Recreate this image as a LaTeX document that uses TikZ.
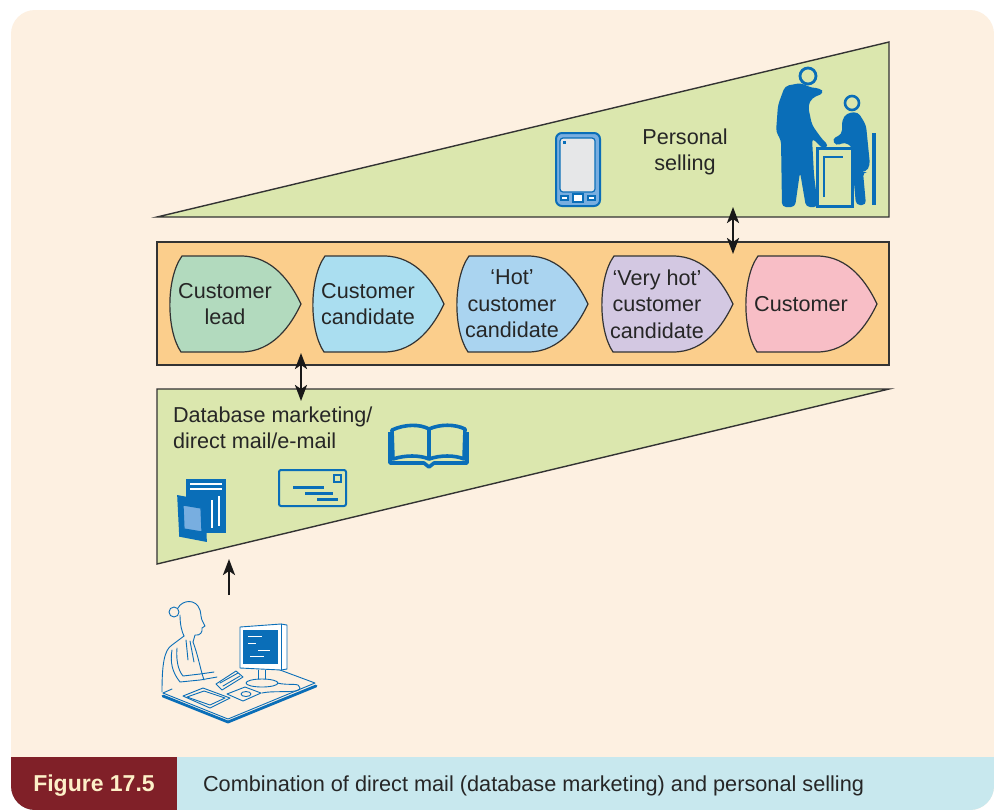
\documentclass[tikz,border=0pt]{standalone}
\usepackage{fontspec}
\setmainfont{Liberation Sans}
\usepackage{tikz}
\usetikzlibrary{arrows.meta}

\definecolor{cream}{HTML}{FDF0E1}
\definecolor{funnel}{HTML}{DBE7AE}
\definecolor{bandorange}{HTML}{FBCE8C}
\definecolor{leadgreen}{HTML}{B2DABE}
\definecolor{candblue}{HTML}{AADEF0}
\definecolor{hotblue}{HTML}{AAD4F0}
\definecolor{veryhot}{HTML}{D3C8E2}
\definecolor{custpink}{HTML}{F8BEC6}
\definecolor{capblue}{HTML}{C8E8EE}
\definecolor{capred}{HTML}{802028}
\definecolor{capcream}{HTML}{FDF0C8}
\definecolor{iconblue}{HTML}{0A6EB8}
\definecolor{phoneblue}{HTML}{78AEE0}
\definecolor{screengrey}{HTML}{E6E7E8}

\begin{document}
\begin{tikzpicture}[x = 0.5pt, y = -0.5pt,
    frame/.style = {draw = black!80, line width = 0.7pt},
    stagetext/.style = {font = \fontsize{10.8}{13.2}\selectfont, align = center, text = black!85},
    twoway/.style = {{Stealth[length = 8pt, width = 6pt, inset = 2pt]}-{Stealth[length = 8pt, width = 6pt, inset = 2pt]}, line width = 1.2pt, black!90},
    oneway/.style = {-{Stealth[length = 8pt, width = 6pt, inset = 2pt]}, line width = 1.2pt, black!90},
    icon/.style = {draw = iconblue, line width = 1pt},
    sketch/.style = {draw = iconblue, line width = 0.45pt, line join = round, line cap = round}]
    \useasboundingbox (0, 0) rectangle (1000, 810);
    \fill [white] (0, 0) rectangle (1000, 810);
    % panel and caption strip
    \begin{scope}
        \clip [rounded corners = 12pt] (11, 10) rectangle (994, 810);
        \fill [cream] (11, 10) rectangle (994, 810);
        \fill [capblue] (11, 757) rectangle (994, 810);
        \fill [capred] (11, 757) rectangle (177, 810);
    \end{scope}
    \node [font = \bfseries\fontsize{11.5}{13}\selectfont, text = capcream] (fignum) at (94, 786) {Figure 17.5};
    \node [font = \fontsize{10.85}{13}\selectfont, text = black!85, anchor = west] (caption) at (196, 786) {Combination of direct mail (database marketing) and personal selling};

    % the two wedges and the stage band
    \filldraw [fill = funnel, frame] (157, 217) -- (889, 42) -- (889, 217) -- cycle;
    \filldraw [fill = funnel, frame] (157, 389) -- (889, 389) -- (157, 564) -- cycle;
    \filldraw [fill = bandorange, frame] (157, 242) rectangle (889, 365);

    \foreach \x/\c/\t [count = \i] in {169/leadgreen/{Customer\\lead}, 312/candblue/{Customer\\candidate},
        456/hotblue/{‘Hot’\\customer\\candidate}, 601/veryhot/{‘Very hot’\\customer\\candidate}, 745/custpink/{Customer}} {
        \filldraw [fill = \c, draw = black!80, line width = 0.6pt, shift = {(\x, 0)}]
            (13, 256) -- (72, 256) .. controls (104, 256) and (122, 283) .. (132, 304)
            .. controls (122, 325) and (104, 352) .. (72, 352) -- (12, 352)
            .. controls (-3, 330) and (-3, 278) .. (13, 256) -- cycle;
        \node [stagetext] (s\i) at (\x + 56, 304) {\t};
    }

    \node [stagetext] (selling) at (685, 152) {Personal\\selling};
    \node [stagetext, align = left, anchor = west] (mailing) at (166, 428) {Database marketing/\\direct mail/e-mail};

    % links
    \coordinate (sellfoot) at (733, 207);
    \coordinate (bandtop) at (733, 254);
    \coordinate (bandfoot) at (301, 353);
    \coordinate (mailtop) at (301, 401);
    \coordinate (desk) at (229, 595);
    \coordinate (mailfoot) at (229, 559);
    \draw [twoway] (sellfoot) -- (bandtop);
    \draw [twoway] (bandfoot) -- (mailtop);
    \draw [oneway] (desk) -- (mailfoot);

    % phone
    \filldraw [fill = phoneblue, draw = iconblue, line width = 1pt, rounded corners = 3pt] (556, 133) rectangle (600, 206);
    \filldraw [fill = screengrey, draw = iconblue, line width = 0.6pt, rounded corners = 1.5pt] (560, 138) rectangle (595, 192);
    \fill [iconblue] (563, 141) rectangle (566, 144);
    \filldraw [fill = white, draw = iconblue, line width = 0.6pt] (561, 196) rectangle (568, 200) (573, 194) rectangle (583, 202) (588, 196) rectangle (595, 200);

    % salesman and seated customer
    \fill [iconblue, rounded corners = 2pt] (785, 86) -- (801, 83) -- (812, 88) -- (820, 88) -- (824, 93) -- (812, 98)
        -- (808, 106) -- (812, 125) -- (822, 139) -- (829, 146) -- (823, 149) -- (812, 138) -- (814, 175) -- (818, 207)
        -- (806, 207) -- (800, 172) -- (795, 207) -- (782, 207) -- (781, 140) -- (776, 132) -- (778, 105) -- cycle;
    \draw [iconblue, line width = 1.4pt] (808, 76) circle (8);
    \fill [iconblue, rounded corners = 2pt] (847, 113) -- (858, 112) -- (866, 125) -- (870, 165) -- (866, 172) -- (863, 172)
        -- (866, 205) -- (856, 205) -- (853, 172) -- (853, 148) -- (845, 142) -- (836, 146) -- (832, 139) -- (842, 134)
        -- (842, 120) -- cycle;
    \draw [iconblue, line width = 1.3pt] (852, 103) circle (7);
    \draw [iconblue, line width = 1.6pt] (874, 133) -- (874, 205);
    \filldraw [fill = funnel, draw = iconblue, line width = 1.5pt] (817, 148) rectangle (852, 206);
    \draw [iconblue, line width = 1.3pt] (824, 197) -- (824, 157) -- (843, 157);

    % book
    \begin{scope}[draw = iconblue, line width = 1.8pt, line join = round]
        \draw (392, 430) .. controls (405, 424) and (420, 424) .. (429, 429) -- (429, 459)
            .. controls (420, 455) and (405, 455) .. (393, 459) -- cycle;
        \draw (429, 429) .. controls (440, 424) and (455, 424) .. (465, 429) -- (464, 459)
            .. controls (455, 455) and (440, 455) .. (429, 459);
        \draw (390, 432) -- (390, 463) -- (424, 463) -- (429, 467) -- (434, 463) -- (467, 463) -- (467, 432);
    \end{scope}

    % envelope
    \draw [icon, rounded corners = 1pt] (279, 470) rectangle (346, 506);
    \draw [icon] (334, 475) rectangle (341, 482);
    \draw [iconblue, line width = 1.5pt] (293, 487) -- (324, 487) (305, 493) -- (333, 493) (317, 499) -- (338, 499);

    % brochures
    \fill [iconblue] (186, 479) rectangle (226, 533);
    \draw [white, line width = 0.8pt] (190, 484) -- (222, 484) (190, 489) -- (222, 489) (212, 500) -- (212, 528) (219, 496) -- (219, 526);
    \filldraw [fill = iconblue, draw = iconblue, line width = 0.8pt] (178, 496) -- (205, 501) -- (206, 541) -- (180, 536) -- cycle;
    \filldraw [fill = phoneblue, draw = iconblue, line width = 0.6pt] (183, 505) -- (201, 508) -- (202, 532) -- (184, 529) -- cycle;

    % woman at her computer
    \draw [sketch, line width = 1.4pt] (163, 696) -- (228, 722) -- (316, 686);
    \draw [sketch] (163, 693) -- (228, 719) -- (315, 683) -- (272, 667);
    \draw [sketch] (163, 693) -- (172, 689);
    \draw [sketch] (183, 696) -- (203, 688) -- (230, 698) -- (210, 708) -- cycle;
    \draw [sketch] (187, 697) -- (204, 691) -- (225, 698) -- (210, 705) -- cycle;
    \draw [sketch] (227, 694) -- (245, 687) -- (261, 693) -- (243, 701) -- cycle;
    \draw [sketch] (246, 694) ellipse (5 and 2.5);
    \draw [sketch] (216, 684) -- (236, 671) -- (243, 677) -- (222, 690) -- cycle;
    \draw [sketch] (220, 683) -- (238, 673) (223, 686) -- (240, 676);
    % monitor
    \filldraw [fill = white, sketch] (240, 627) -- (281, 624) -- (287, 625) -- (287, 669) -- (281, 670) -- (240, 668) -- cycle;
    \draw [sketch] (281, 624) -- (281, 670);
    \fill [iconblue] (243, 630) rectangle (278, 664);
    \draw [white, line width = 0.4pt] (248, 636) -- (262, 636) (248, 643) -- (256, 643) (258, 650) -- (270, 650) (250, 656) -- (264, 656);
    \draw [sketch] (258, 670) -- (258, 679) (265, 670) -- (265, 679);
    \draw [sketch] (262, 683) ellipse (16 and 4);
    \draw [sketch] (277, 683) .. controls (290, 686) and (300, 682) .. (300, 688) .. controls (300, 694) and (275, 690) .. (262, 693);
    % figure
    \draw [sketch] (178, 608) .. controls (182, 600) and (196, 598) .. (200, 610) .. controls (201, 614) and (201, 618) .. (202, 620)
        -- (205, 626) -- (202, 628) .. controls (203, 632) and (200, 636) .. (195, 635) -- (193, 642);
    \draw [sketch] (174, 612) circle (5);
    \draw [sketch] (180, 615) .. controls (180, 625) and (182, 632) .. (184, 636);
    \draw [sketch] (184, 636) -- (172, 645) .. controls (164, 650) and (162, 665) .. (162, 692);
    \draw [sketch] (193, 642) .. controls (198, 655) and (200, 668) .. (204, 680);
    \draw [sketch] (172, 650) .. controls (170, 662) and (172, 672) .. (180, 682) -- (200, 680) -- (217, 677);
    \draw [sketch] (177, 648) .. controls (176, 660) and (178, 670) .. (183, 676) -- (200, 674) -- (214, 672);
    \draw [sketch] (186, 640) -- (188, 660) (190, 641) -- (194, 662);
\end{tikzpicture}
\end{document}
